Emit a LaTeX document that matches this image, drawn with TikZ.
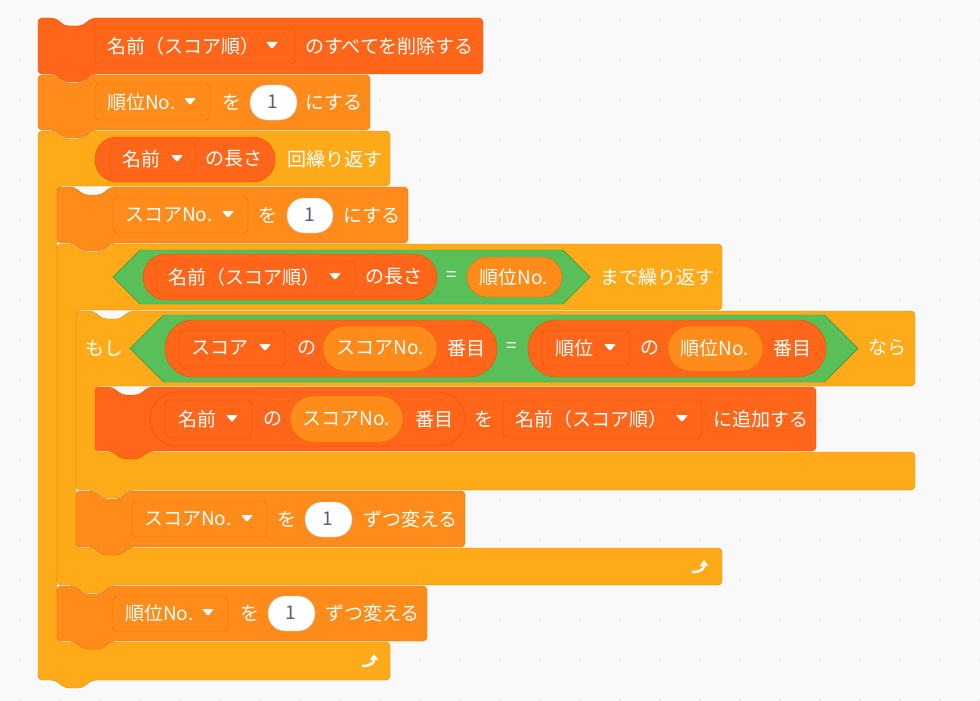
\documentclass[tikz,border=0pt]{standalone}
\usepackage{fontspec}
\setmainfont{Noto Sans CJK JP}
\usetikzlibrary{arrows.meta}
\definecolor{bg}{HTML}{F9F9F9}
\definecolor{dotc}{HTML}{D9D9D9}
\definecolor{lst}{HTML}{FF661A}\definecolor{lstd}{HTML}{E64D00}
\definecolor{dat}{HTML}{FF8C1A}\definecolor{datd}{HTML}{DB6E00}
\definecolor{ctl}{HTML}{FFAB19}\definecolor{ctld}{HTML}{CF8B17}
\definecolor{opr}{HTML}{59C059}\definecolor{oprd}{HTML}{389438}
\definecolor{numc}{HTML}{575E75}
\tikzset{lbl/.style={text=white,inner sep=0pt,anchor=west,font=\fontsize{19}{22}\selectfont},
clbl/.style={lbl,anchor=center}}
\newcommand\stk[6]{\draw[fill=#5,draw=#6,rounded corners=4] (#1,#2) -- ({#1+17},#2) -- ({#1+27},{#2+8}) -- ({#1+44},{#2+8}) -- ({#1+54},#2) -- (#3,#2) -- (#3,#4) -- ({#1+54},#4) -- ({#1+44},{#4+8}) -- ({#1+27},{#4+8}) -- ({#1+17},#4) -- (#1,#4) -- cycle;}
% x1 yt x2 ya yb x2b ye
\newcommand\cblk[7]{\draw[fill=ctl,draw=ctld,rounded corners=4] (#1,#2) -- ({#1+17},#2) -- ({#1+27},{#2+8}) -- ({#1+44},{#2+8}) -- ({#1+54},#2) -- (#3,#2) -- (#3,#4) -- ({#1+19},#4) -- ({#1+19},#5) -- (#6,#5) -- (#6,#7) -- ({#1+54},#7) -- ({#1+44},{#7+8}) -- ({#1+27},{#7+8}) -- ({#1+17},#7) -- (#1,#7) -- cycle;}
\newcommand\pill[7]{\draw[fill=#5,draw=#6,rounded corners=#7] (#1,#2) rectangle (#3,#4);}
\newcommand\tri[2]{\fill[white,rounded corners=1] ({#1-6},{#2-3}) -- ({#1+6},{#2-3}) -- (#1,{#2+4}) -- cycle;}
\newcommand\hexa[4]{\draw[fill=opr,draw=oprd] (#1,{(#2+#4)/2}) -- ({#1+(#4-#2)/2},#2) -- ({#3-(#4-#2)/2},#2) -- (#3,{(#2+#4)/2}) -- ({#3-(#4-#2)/2},#4) -- ({#1+(#4-#2)/2},#4) -- cycle;}
\newcommand\loopicon[2]{\draw[white,line width=2.4pt,-{Triangle[length=6pt,width=8pt]}] ({#1-8},{#2+6}) .. controls ({#1+2},{#2+6}) and ({#1+4},{#2+2}) .. ({#1+4},{#2-6});}
\begin{document}
\begin{tikzpicture}[x=1pt,y=-1pt]
\fill[bg] (0,0) rectangle (980,701);
\useasboundingbox (0,0) rectangle (980,701);
\foreach \i in {0,...,24}{\foreach \j in {0,...,17}{\fill[dotc] ({20+40*\i},{20+40*\j}) circle (1);}}
% outer repeat
\cblk{38}{131}{390}{186}{642}{390}{680}
\loopicon{370}{660}
% block 1
\stk{38}{18}{483}{74}{lst}{lstd}
\draw[fill=lst,draw=lstd,rounded corners=4] (95,28) rectangle (295,64);
\node[lbl] (t1) at (107,46) {名前（スコア順）}; \tri{272}{45}
\node[lbl] (t1b) at (305,46) {のすべてを削除する};
% block 2
\stk{38}{75}{370}{130}{dat}{datd}
\draw[fill=dat,draw=datd,rounded corners=4] (95,84) rectangle (210,120);
\node[lbl] (t2) at (107,102) {順位No.}; \tri{190}{101}
\node[lbl] (t2b) at (222,102) {を};
\pill{250}{85}{297}{120}{white}{black!25}{17}
\node[clbl,text=numc] (t2c) at (273,102) {1};
\node[lbl] (t2d) at (305,102) {にする};
% repeat header contents
\pill{95}{137}{275}{182}{lst}{lstd}{22}
\draw[fill=lst,draw=lstd,rounded corners=4] (110,143) rectangle (195,175);
\node[lbl] (t3) at (122,159) {名前}; \tri{177}{158}
\node[lbl] (t3b) at (205,159) {の長さ};
\node[lbl] (t3c) at (287,159) {回繰り返す};
% repeat until
\cblk{57}{244}{722}{310}{548}{722}{585}
\loopicon{700}{566}
% block 4
\stk{57}{187}{408}{243}{dat}{datd}
\draw[fill=dat,draw=datd,rounded corners=4] (113,197) rectangle (248,233);
\node[lbl] (t4) at (125,215) {スコアNo.}; \tri{228}{214}
\node[lbl] (t4b) at (258,215) {を};
\pill{287}{198}{333}{233}{white}{black!25}{17}
\node[clbl,text=numc] (t4c) at (310,215) {1};
\node[lbl] (t4d) at (343,215) {にする};
% until condition
\hexa{113}{250}{590}{304}
\pill{143}{254}{437}{300}{lst}{lstd}{23}
\draw[fill=lst,draw=lstd,rounded corners=4] (157,261) rectangle (355,293);
\node[lbl] (t5) at (168,277) {名前（スコア順）}; \tri{335}{276}
\node[lbl] (t5b) at (365,277) {の長さ};
\node[clbl] (t5c) at (452,277) {=};
\pill{467}{257}{562}{297}{dat}{datd}{20}
\node[clbl] (t5d) at (514,277) {順位No.};
\node[lbl] (t5e) at (600,277) {まで繰り返す};
% if block
\cblk{76}{311}{915}{386}{452}{915}{490}
\node[lbl] (t6) at (85,348) {もし};
\hexa{130}{315}{858}{382}
\pill{165}{320}{497}{377}{lst}{lstd}{28}
\draw[fill=lst,draw=lstd,rounded corners=4] (179,330) rectangle (285,366);
\node[lbl] (t6a) at (191,348) {スコア}; \tri{265}{347}
\node[lbl] (t6b) at (297,348) {の};
\pill{323}{326}{437}{371}{dat}{datd}{22}
\node[clbl] (t6c) at (380,348) {スコアNo.};
\node[lbl] (t6d) at (447,348) {番目};
\node[clbl] (t6e) at (512,348) {=};
\pill{528}{320}{826}{377}{lst}{lstd}{28}
\draw[fill=lst,draw=lstd,rounded corners=4] (542,330) rectangle (630,366);
\node[lbl] (t6f) at (555,348) {順位}; \tri{610}{347}
\node[lbl] (t6g) at (640,348) {の};
\pill{668}{326}{763}{371}{dat}{datd}{22}
\node[clbl] (t6h) at (715,348) {順位No.};
\node[lbl] (t6i) at (773,348) {番目};
\node[lbl] (t6j) at (868,348) {なら};
% add block
\stk{95}{387}{816}{451}{lst}{lstd}
\pill{150}{392}{465}{446}{lst}{lstd}{27}
\draw[fill=lst,draw=lstd,rounded corners=4] (165,400) rectangle (252,437);
\node[lbl] (t7) at (178,419) {名前}; \tri{232}{418}
\node[lbl] (t7b) at (263,419) {の};
\pill{290}{396}{403}{442}{dat}{datd}{23}
\node[clbl] (t7c) at (346,419) {スコアNo.};
\node[lbl] (t7d) at (415,419) {番目};
\node[lbl] (t7e) at (474,419) {を};
\draw[fill=lst,draw=lstd,rounded corners=4] (503,400) rectangle (702,437);
\node[lbl] (t7f) at (515,419) {名前（スコア順）}; \tri{682}{418}
\node[lbl] (t7g) at (713,419) {に追加する};
% block 8
\stk{76}{491}{465}{547}{dat}{datd}
\draw[fill=dat,draw=datd,rounded corners=4] (132,501) rectangle (267,537);
\node[lbl] (t8) at (144,519) {スコアNo.}; \tri{247}{518}
\node[lbl] (t8b) at (277,519) {を};
\pill{305}{502}{352}{537}{white}{black!25}{17}
\node[clbl,text=numc] (t8c) at (328,519) {1};
\node[lbl] (t8d) at (363,519) {ずつ変える};
% block 9
\stk{57}{586}{427}{641}{dat}{datd}
\draw[fill=dat,draw=datd,rounded corners=4] (113,596) rectangle (228,631);
\node[lbl] (t9) at (125,613) {順位No.}; \tri{208}{612}
\node[lbl] (t9b) at (240,613) {を};
\pill{268}{596}{315}{631}{white}{black!25}{17}
\node[clbl,text=numc] (t9c) at (291,613) {1};
\node[lbl] (t9d) at (325,613) {ずつ変える};
\end{tikzpicture}
\end{document}
